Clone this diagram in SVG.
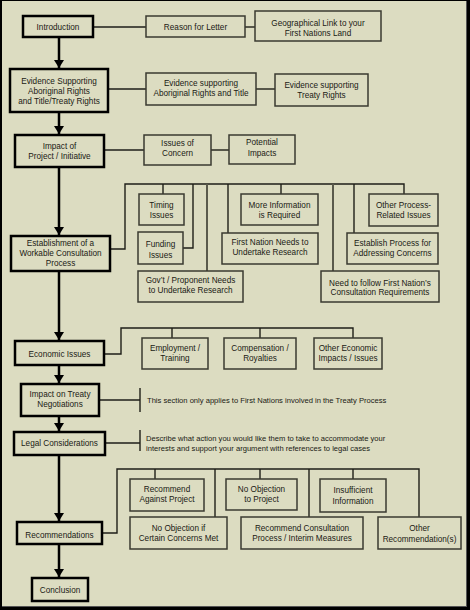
<svg xmlns="http://www.w3.org/2000/svg" width="470" height="610" viewBox="0 0 470 610">
<defs>
<style>
.bg{fill:#dcdcc1}
.main{fill:#dcdcc1;stroke:#000;stroke-width:2.5}
.sub{fill:#dcdcc1;stroke:#3a3a30;stroke-width:1.5}
.arr{fill:none;stroke:#000;stroke-width:2.5}
.con{fill:none;stroke:#1e1e18;stroke-width:1.4}
.cong{fill:none;stroke:#5a5a4c;stroke-width:2}
text{font-family:"Liberation Sans",Arial,sans-serif;font-size:8.2px;fill:#1a1a14;text-anchor:middle}
.l{text-anchor:start;font-size:7.6px}
</style>
<marker id="ah" viewBox="0 0 8 10" refX="8" refY="5" markerWidth="8" markerHeight="10" markerUnits="userSpaceOnUse" orient="auto">
<path d="M0,0 L8,5 L0,10 z" fill="#000"/>
</marker>
</defs>
<rect x="0" y="0" width="470" height="610" fill="#000"/>
<rect class="bg" x="2" y="1" width="465" height="606"/>
<line x1="466.5" y1="1" x2="466.5" y2="607" stroke="#555" stroke-width="1"/>
<line x1="2" y1="606.5" x2="467" y2="606.5" stroke="#555" stroke-width="1"/>

<g id="connectors">
<line class="arr" x1="59" y1="37" x2="59" y2="68" marker-end="url(#ah)"/>
<line class="arr" x1="59" y1="112" x2="59" y2="134" marker-end="url(#ah)"/>
<line class="arr" x1="59" y1="167" x2="59" y2="235" marker-end="url(#ah)"/>
<line class="arr" x1="59" y1="271" x2="59" y2="340" marker-end="url(#ah)"/>
<line class="arr" x1="59" y1="365" x2="59" y2="383" marker-end="url(#ah)"/>
<line class="arr" x1="59" y1="416" x2="59" y2="431" marker-end="url(#ah)"/>
<line class="arr" x1="59" y1="455" x2="59" y2="521" marker-end="url(#ah)"/>
<line class="arr" x1="59" y1="544" x2="59" y2="577" marker-end="url(#ah)"/>

<line class="con" x1="93" y1="27" x2="146" y2="27"/>
<line class="con" x1="245" y1="27" x2="255" y2="27"/>
<line class="con" x1="109" y1="89" x2="146" y2="89"/>
<line class="con" x1="256" y1="89" x2="275" y2="89"/>
<line class="con" x1="104" y1="150" x2="144" y2="150"/>
<line class="con" x1="211" y1="150" x2="229" y2="150"/>

<polyline class="con" points="110,249 125,249 125,184 404,184 404,194"/>
<line class="con" x1="163" y1="184" x2="163" y2="194"/>
<polyline class="con" points="193,184 193,248 183,248"/>
<line class="cong" x1="207" y1="184" x2="207" y2="271"/>
<line class="con" x1="228" y1="184" x2="228" y2="233"/>
<line class="con" x1="281" y1="184" x2="281" y2="194"/>
<line class="cong" x1="333" y1="184" x2="333" y2="271"/>
<line class="con" x1="354" y1="184" x2="354" y2="233"/>

<polyline class="con" points="104,354 121,354 121,328 353,328 353,338"/>
<line class="con" x1="172" y1="328" x2="172" y2="338"/>
<line class="con" x1="260" y1="328" x2="260" y2="338"/>

<line class="con" x1="99" y1="400" x2="140" y2="400"/>
<line class="con" x1="140" y1="388" x2="140" y2="412"/>
<line class="con" x1="105" y1="443" x2="140" y2="443"/>
<line class="con" x1="140" y1="430" x2="140" y2="451"/>

<polyline class="con" points="102,533 117,533 117,469 419,469 419,517"/>
<line class="con" x1="155" y1="469" x2="155" y2="479"/>
<line class="con" x1="215" y1="469" x2="215" y2="517"/>
<line class="con" x1="260" y1="469" x2="260" y2="479"/>
<line class="con" x1="309" y1="469" x2="309" y2="517"/>
<line class="con" x1="353" y1="469" x2="353" y2="479"/>
</g>

<g id="introduction"><rect class="main" x="23" y="16" width="70" height="21"/><text x="58" y="30">Introduction</text></g>
<g id="reason"><rect class="sub" x="146" y="16" width="99" height="21"/><text x="195.5" y="29.5">Reason for Letter</text></g>
<g id="geo"><rect class="sub" x="255" y="11" width="126" height="30"/><text x="318" y="25.5">Geographical Link to your</text><text x="318" y="35.5">First Nations Land</text></g>

<g id="evidence"><rect class="main" x="10" y="69" width="98" height="43"/><text x="59" y="84">Evidence Supporting</text><text x="59" y="94">Aboriginal Rights</text><text x="59" y="104">and Title/Treaty Rights</text></g>
<g id="ev-title"><rect class="sub" x="146" y="73" width="110" height="32"/><text x="201" y="86">Evidence supporting</text><text x="201" y="96">Aboriginal Rights and Title</text></g>
<g id="ev-treaty"><rect class="sub" x="275" y="74" width="93" height="32"/><text x="321.5" y="88">Evidence supporting</text><text x="321.5" y="98">Treaty Rights</text></g>

<g id="impact"><rect class="main" x="15" y="135" width="89" height="32"/><text x="59.5" y="149">Impact of</text><text x="59.5" y="159">Project / Initiative</text></g>
<g id="issues"><rect class="sub" x="144" y="135" width="67" height="30"/><text x="177.5" y="145.5">Issues of</text><text x="177.5" y="156">Concern</text></g>
<g id="potential"><rect class="sub" x="229" y="135" width="66" height="29"/><text x="262" y="145">Potential</text><text x="262" y="155.5">Impacts</text></g>

<g id="establishment"><rect class="main" x="11" y="236" width="99" height="35"/><text x="60.5" y="245.5">Establishment of a</text><text x="60.5" y="256">Workable Consultation</text><text x="60.5" y="266">Process</text></g>
<g id="timing"><rect class="sub" x="139" y="194" width="45" height="31"/><text x="161.5" y="208">Timing</text><text x="161.5" y="218">Issues</text></g>
<g id="funding"><rect class="sub" x="138" y="232" width="45" height="32"/><text x="160.5" y="247">Funding</text><text x="160.5" y="257.5">Issues</text></g>
<g id="govt"><rect class="sub" x="138" y="271" width="105" height="31"/><text x="190.5" y="283">Gov’t / Proponent Needs</text><text x="190.5" y="293">to Undertake Research</text></g>
<g id="fn-research"><rect class="sub" x="222" y="233" width="96" height="31"/><text x="270" y="245">First Nation Needs to</text><text x="270" y="255">Undertake Research</text></g>
<g id="more-info"><rect class="sub" x="241" y="194" width="77" height="31"/><text x="279.5" y="208">More Information</text><text x="279.5" y="218">is Required</text></g>
<g id="fn-consult"><rect class="sub" x="321" y="271" width="118" height="31"/><text x="380" y="285.5">Need to follow First Nation’s</text><text x="380" y="295">Consultation Requirements</text></g>
<g id="establish-process"><rect class="sub" x="347" y="233" width="91" height="31"/><text x="392.5" y="246">Establish Process for</text><text x="392.5" y="256">Addressing Concerns</text></g>
<g id="other-process"><rect class="sub" x="369" y="194" width="69" height="32"/><text x="403.5" y="208">Other Process-</text><text x="403.5" y="218">Related Issues</text></g>

<g id="economic"><rect class="main" x="15" y="341" width="89" height="24"/><text x="59.5" y="357">Economic Issues</text></g>
<g id="employment"><rect class="sub" x="142" y="338" width="66" height="31"/><text x="175" y="351">Employment /</text><text x="175" y="360.5">Training</text></g>
<g id="compensation"><rect class="sub" x="224" y="338" width="72" height="31"/><text x="260" y="351">Compensation /</text><text x="260" y="360.5">Royalties</text></g>
<g id="other-economic"><rect class="sub" x="314" y="338" width="68" height="31"/><text x="348" y="351">Other Economic</text><text x="348" y="361">Impacts / Issues</text></g>

<g id="treaty"><rect class="main" x="21" y="384" width="78" height="32"/><text x="60" y="397">Impact on Treaty</text><text x="60" y="407">Negotiations</text></g>
<g id="treaty-note"><text class="l" x="147" y="403">This section only applies to First Nations involved in the Treaty Process</text></g>

<g id="legal"><rect class="main" x="14" y="432" width="91" height="23"/><text x="59.5" y="445.5">Legal Considerations</text></g>
<g id="legal-note"><text class="l" x="146" y="441">Describe what action you would like them to take to accommodate your</text><text class="l" x="146" y="451">interests and support your argument with references to legal cases</text></g>

<g id="recommendations"><rect class="main" x="17" y="522" width="85" height="22"/><text x="59.5" y="537.5">Recommendations</text></g>
<g id="rec-against"><rect class="sub" x="130" y="479" width="74" height="32"/><text x="167" y="491.5">Recommend</text><text x="167" y="501.5">Against Project</text></g>
<g id="no-obj-if"><rect class="sub" x="130" y="517" width="97" height="32"/><text x="178.5" y="531">No Objection if</text><text x="178.5" y="541">Certain Concerns Met</text></g>
<g id="no-obj"><rect class="sub" x="226" y="479" width="71" height="31"/><text x="261.5" y="492">No Objection</text><text x="261.5" y="502">to Project</text></g>
<g id="rec-consult"><rect class="sub" x="241" y="517" width="122" height="32"/><text x="302" y="531">Recommend Consultation</text><text x="302" y="541">Process / Interim Measures</text></g>
<g id="insufficient"><rect class="sub" x="320" y="479" width="66" height="33"/><text x="353" y="493">Insufficient</text><text x="353" y="503.5">Information</text></g>
<g id="other-rec"><rect class="sub" x="378" y="517" width="83" height="32"/><text x="419.5" y="531">Other</text><text x="419.5" y="542">Recommendation(s)</text></g>

<g id="conclusion"><rect class="main" x="32" y="578" width="56" height="23"/><text x="60" y="593">Conclusion</text></g>
</svg>
